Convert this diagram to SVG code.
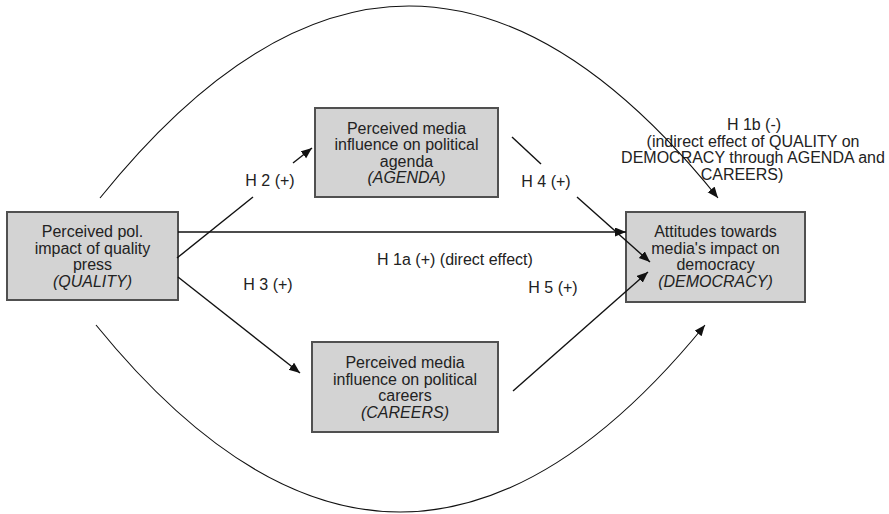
<svg xmlns="http://www.w3.org/2000/svg" width="889" height="514" viewBox="0 0 889 514">
<style>
  .box { fill: #d3d3d3; stroke: #505050; stroke-width: 2; }
  .t { font-family: "Liberation Sans", Arial, sans-serif; font-size: 16px; fill: #222; text-anchor: middle; }
  .i { font-style: italic; }
  .ln { fill: none; stroke: #111; stroke-width: 1.4; }
  .arc { fill: none; stroke: #111; stroke-width: 1.1; }
</style>
<defs>
  <marker id="ah" markerUnits="userSpaceOnUse" markerWidth="12" markerHeight="10" refX="11" refY="4.5" orient="auto">
    <path d="M0,0 L11,4.5 L0,9 z" fill="#111"/>
  </marker>
</defs>
<rect width="889" height="514" fill="#fff"/>

<g id="labels">
  <text class="t" x="270" y="186">H 2 (+)</text>
  <text class="t" x="268" y="290">H 3 (+)</text>
  <text class="t" x="546" y="187">H 4 (+)</text>
  <text class="t" x="553" y="293">H 5 (+)</text>
  <text class="t" x="455" y="265">H 1a (+) (direct effect)</text>
  <text class="t" x="754" y="130">H 1b (-)</text>
  <text class="t" x="753" y="146.5">(indirect effect of QUALITY on</text>
  <text class="t" x="753" y="163">DEMOCRACY through AGENDA and</text>
  <text class="t" x="742" y="179.5">CAREERS)</text>
</g>

<g id="quality">
  <rect class="box" x="7" y="212" width="171" height="88"/>
  <text class="t" x="92.5" y="237">Perceived pol.</text>
  <text class="t" x="92.5" y="253.5">impact of quality</text>
  <text class="t" x="92.5" y="270">press</text>
  <text class="t i" x="92.5" y="286.5">(QUALITY)</text>
</g>

<g id="agenda">
  <rect class="box" x="315" y="108" width="183" height="89"/>
  <text class="t" x="406.5" y="133.5">Perceived media</text>
  <text class="t" x="406.5" y="150">influence on political</text>
  <text class="t" x="406.5" y="166.5">agenda</text>
  <text class="t i" x="406.5" y="183">(AGENDA)</text>
</g>

<g id="careers">
  <rect class="box" x="312" y="342" width="186" height="90"/>
  <text class="t" x="405" y="368">Perceived media</text>
  <text class="t" x="405" y="384.5">influence on political</text>
  <text class="t" x="405" y="401">careers</text>
  <text class="t i" x="405" y="417.5">(CAREERS)</text>
</g>

<g id="democracy">
  <rect class="box" x="626" y="212" width="179" height="90"/>
  <text class="t" x="715.5" y="237">Attitudes towards</text>
  <text class="t" x="715.5" y="253.5">media's impact on</text>
  <text class="t" x="715.5" y="270">democracy</text>
  <text class="t i" x="715.5" y="286.5">(DEMOCRACY)</text>
</g>

<g id="connectors">
  <path class="arc" d="M100,198 Q409,-186 718,198" marker-end="url(#ah)"/>
  <path class="arc" d="M96,325 Q400,699 705,325" marker-end="url(#ah)"/>
  <path class="ln" d="M178,232 L626,232" marker-end="url(#ah)"/>
  <path class="ln" d="M177,258 L253,197"/>
  <path class="ln" d="M293,163 L312,148" marker-end="url(#ah)"/>
  <path class="ln" d="M178,277 L300,373" marker-end="url(#ah)"/>
  <path class="ln" d="M512,137 L541,164"/>
  <path class="ln" d="M577,197 L650,262" marker-end="url(#ah)"/>
  <path class="ln" d="M513,391 L648,272" marker-end="url(#ah)"/>
</g>
</svg>
